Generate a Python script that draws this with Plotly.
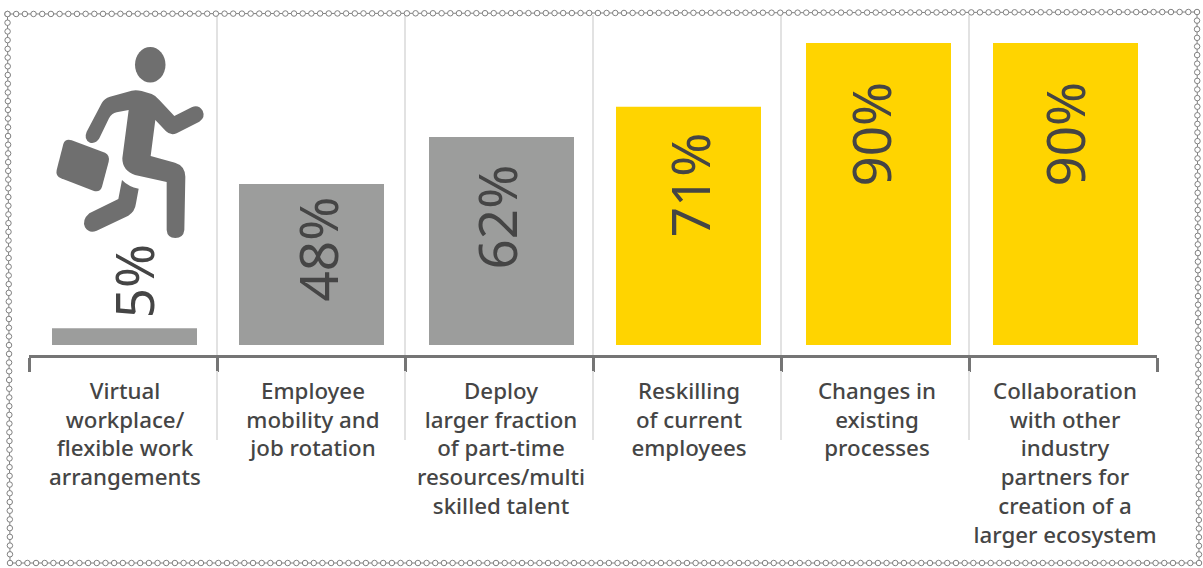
"""EY-style bar chart: share of respondents by workforce measure."""

import numpy as np
import plotly.graph_objects as go

CATEGORIES = [
    'Virtual<br>workplace/<br>flexible work<br>arrangements',
    'Employee<br>mobility and<br>job rotation',
    'Deploy<br>larger fraction<br>of part-time<br>resources/multi<br>skilled talent',
    'Reskilling<br>of current<br>employees',
    'Changes in<br>existing<br>processes',
    'Collaboration<br>with other<br>industry<br>partners for<br>creation of a<br>larger ecosystem',
]
VALUES = [5, 48, 62, 71, 90, 90]
LABELS = ['5%', '48%', '62%', '71%', '90%', '90%']
HIGHLIGHT = [False, False, False, True, True, True]

W, H = 1203, 568
PLOT_LEFT, PLOT_RIGHT = 29, 1157
PLOT_TOP, PLOT_BOTTOM = 20, 355
BASELINE = 345
PX_PER_UNIT = 3.355
BAR_PX = 145
SLOT_PX = (PLOT_RIGHT - PLOT_LEFT) / len(CATEGORIES)
# bars and labels in the source sit a little off the slot centres
BAR_SHIFT_PX = [1.5, 0.5, 2.5, 1.5, 3.5, 2.5]
LABEL_X_PX = [133, 317, 496, 689, 871, 1065]
LABEL_GAP_PX = [8, 11, 26, 24, 37, 37]

GREY = '#9c9d9c'
YELLOW = '#ffd400'
TEXT = '#454545'
ICON = '#6f6f6f'
CHAIN = '#808080'
AXIS = '#757575'
FONT = 'Noto Sans'

# running figure with briefcase, traced in 3x zoom pixels
ICON_PATHS = [
    'M260 395 L305 310 Q313 295 330 290 L395 272 Q408 269 425 273 L455 282 Q468 287 478 300 '
    'L523 348 L575 322 Q595 312 608 332 Q617 352 598 365 L530 400 Q512 408 498 394 L466 360 '
    'L452 468 L525 488 Q555 497 556 530 L553 690 Q550 714 526 714 Q502 714 500 690 L500 546 '
    'L405 525 Q367 512 367 475 L386 330 L350 337 Q335 340 327 355 L298 415 Q288 432 270 428 '
    'Q250 418 260 395 Z',
    'M366 540 Q385 560 416 566 L408 610 Q405 635 385 647 L290 692 Q268 702 255 682 '
    'Q245 660 268 640 L355 597 Z',
    'M190 432 Q196 415 215 421 L315 458 Q330 465 326 485 L306 560 Q300 578 280 572 '
    'L183 535 Q166 528 170 510 Z',
]


def scale_path(path):
    out = []
    for tok in path.split():
        if tok == 'Z':
            out.append(tok)
        else:
            out.append(f'{tok[0] if tok[0].isalpha() else ""}{float(tok.lstrip("MLQ")) / 3:.2f}')
    return ' '.join(out)


def chain_points():
    """Corners of the beaded border, walked clockwise."""
    corners = [(7.5, 14), (1197, 12), (1199, 563), (10, 563), (7.5, 14)]
    xs, ys = [], []
    for (x0, y0), (x1, y1) in zip(corners[:-1], corners[1:]):
        n = int(round(np.hypot(x1 - x0, y1 - y0) / 8.67))
        xs.extend(np.linspace(x0, x1, n, endpoint=False))
        ys.extend(np.linspace(y0, y1, n, endpoint=False))
    xs.append(corners[-1][0])
    ys.append(corners[-1][1])
    return xs, ys


fig = go.Figure()
fig.add_trace(
    go.Bar(
        x=CATEGORIES,
        y=VALUES,
        marker=dict(color=[YELLOW if h else GREY for h in HIGHLIGHT], line_width=0),
        width=BAR_PX / SLOT_PX,
        offset=[(s - BAR_PX / 2) / SLOT_PX for s in BAR_SHIFT_PX],
        hoverinfo='skip',
        showlegend=False,
    )
)

chain_x, chain_y = chain_points()
fig.add_trace(
    go.Scatter(
        x=chain_x,
        y=chain_y,
        xaxis='x2',
        yaxis='y2',
        mode='lines+markers',
        line=dict(color=CHAIN, width=1),
        marker=dict(size=5.5, color='white', line=dict(color=CHAIN, width=1)),
        hoverinfo='skip',
        showlegend=False,
        cliponaxis=False,
    )
)

for value, label, x_px, gap in zip(VALUES, LABELS, LABEL_X_PX, LABEL_GAP_PX):
    fig.add_annotation(
        x=x_px,
        y=BASELINE - value * PX_PER_UNIT - gap if value < 10 else BASELINE - value * PX_PER_UNIT + gap,
        xref='x2',
        yref='y2',
        text=label,
        textangle=-90,
        showarrow=False,
        xanchor='center',
        yanchor='bottom' if value < 10 else 'top',
        font=dict(family=FONT, size=53, color=TEXT, weight=400),
    )

for i in range(1, len(CATEGORIES)):
    x_px = PLOT_LEFT + i * SLOT_PX
    # two pieces so the separators do not cover the axis ticks
    for y0, y1 in [(15, PLOT_BOTTOM), (371, 440)]:
        fig.add_shape(
            type='line', x0=x_px, x1=x_px, y0=y0, y1=y1, xref='x2', yref='y2',
            line=dict(color='#e2e2e2', width=2), layer='below',
        )

fig.add_shape(
    type='circle', x0=135, x1=165.5, y0=47, y1=82.5, xref='x2', yref='y2',
    fillcolor=ICON, line_width=0,
)
for path in ICON_PATHS:
    fig.add_shape(
        type='path', path=scale_path(path), xref='x2', yref='y2',
        fillcolor=ICON, line_width=0,
    )

fig.update_layout(
    width=W,
    height=H,
    autosize=False,
    margin=dict(l=0, r=0, t=0, b=0),
    paper_bgcolor='white',
    plot_bgcolor='rgba(0,0,0,0)',
    xaxis=dict(
        domain=[PLOT_LEFT / W, PLOT_RIGHT / W],
        type='category',
        tickson='boundaries',
        ticks='outside',
        ticklen=14,
        tickwidth=2.5,
        tickcolor=AXIS,
        showline=True,
        linecolor=AXIS,
        linewidth=2.5,
        showgrid=False,
        tickangle=0,
        ticklabelstandoff=14,
        ticklabelshift=2,
        tickfont=dict(family=FONT, size=22.3, color=TEXT, weight=500),
        automargin=False,
    ),
    yaxis=dict(
        domain=[(H - PLOT_BOTTOM) / H, (H - PLOT_TOP) / H],
        range=[(BASELINE - PLOT_BOTTOM) / PX_PER_UNIT, (BASELINE - PLOT_TOP) / PX_PER_UNIT],
        visible=False,
    ),
    xaxis2=dict(domain=[0, 1], range=[0, W], visible=False, anchor='y2'),
    yaxis2=dict(domain=[0, 1], range=[H, 0], visible=False, anchor='x2'),
)

fig.write_html('out.html', post_script="document.body.style.margin='0';", config=dict(displayModeBar=False))
